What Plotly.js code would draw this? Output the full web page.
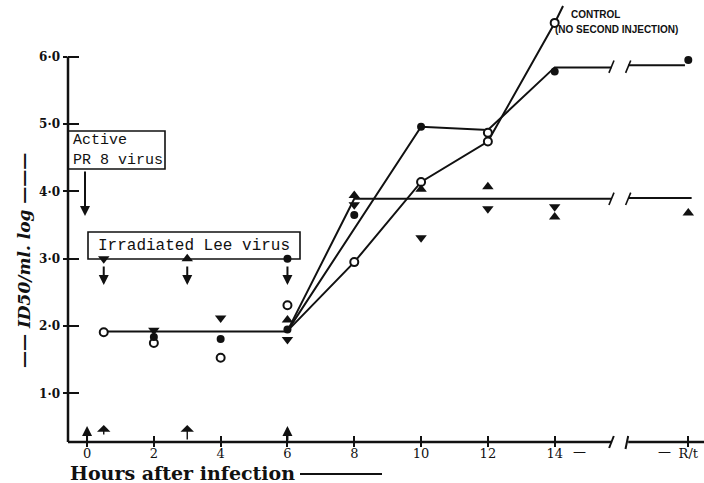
<!DOCTYPE html>
<html><head><meta charset="utf-8">
<script src="https://cdn.plot.ly/plotly-3.0.1.min.js"></script>
<style>html,body{margin:0;padding:0;background:#fff}#chart{width:704px;height:483px}</style>
</head><body><div id="chart"></div>
<script>
// ---- data (hours after infection, log ID50/ml) ----
const baseX = [0.5, 6];
const baseY = [1.92, 1.92];
const lineLee6X = [6, 10, 12, 14, 15.7, null, 16.2, 17.9];
const lineLee6Y = [1.93, 4.96, 4.91, 5.84, 5.84, null, 5.87, 5.87];
const lineTriX = [6, 8, 15.7, null, 16.2, 18.1];
const lineTriY = [1.93, 3.89, 3.89, null, 3.9, 3.9];
const lineCtrlX = [6, 8, 10, 12, 14, 14.25];
const lineCtrlY = [1.93, 2.95, 4.14, 4.74, 6.5, 6.75];

const openCircX = [0.5, 2, 4, 6, 8, 10, 12, 12, 14];
const openCircY = [1.91, 1.75, 1.53, 2.31, 2.95, 4.14, 4.87, 4.74, 6.5];
const fillCircX = [2, 4, 6, 8, 10, 14, 18];
const fillCircY = [1.84, 1.81, 1.95, 3.65, 4.96, 5.78, 5.95];
const triUpX = [6, 8, 10, 12, 14, 18];
const triUpY = [2.09, 3.94, 4.03, 4.07, 3.62, 3.68];
const triDnX = [2, 4, 6, 8, 10, 12, 14];
const triDnY = [1.94, 2.12, 1.8, 3.8, 3.31, 3.74, 3.77];

const leeX = [0.5, 3, 6];
const leeY = [3.0, 3.0, 3.0];
const leeSym = ['triangle-down', 'triangle-up', 'circle'];

const injX = [0, 0.5, 3, 6];
const injBold = [true, false, false, true];

const xTickVals = [0, 2, 4, 6, 8, 10, 12, 14, 18];
const xTickText = ['0', '2', '4', '6', '8', '10', '12', '14', 'R/t'];
const yTickVals = [1, 2, 3, 4, 5, 6];
const yTickText = ['1·0', '2·0', '3·0', '4·0', '5·0', '6·0'];

// ---- layout helpers ----
const XR = [-0.57, 18.47], YR = [0.28, 6.84];
const L = 68, T = 0, W = 636, H = 442;
const px = v => (v - XR[0]) / (XR[1] - XR[0]);          // data x -> paper
const pyPix = p => (H - p) / H;                         // pixel y -> paper
const pxPix = p => (p - L) / W;                         // pixel x -> paper

const ink = '#111';
function lineTrace(x, y) {
  return {x, y, mode: 'lines', line: {color: ink, width: 2}, hoverinfo: 'skip', cliponaxis: false, connectgaps: false};
}
function mk(x, y, symbol, size, open) {
  return {x, y, mode: 'markers', cliponaxis: false,
    marker: {symbol, size, color: open ? '#fff' : ink, line: {color: ink, width: open ? 2 : 0}}};
}

const traces = [
  lineTrace(baseX, baseY),
  lineTrace(lineLee6X, lineLee6Y),
  lineTrace(lineTriX, lineTriY),
  lineTrace(lineCtrlX, lineCtrlY),
  mk(openCircX, openCircY, 'circle', 8, true),
  mk(fillCircX, fillCircY, 'circle', 8),
  mk(triUpX, triUpY, 'triangle-up', 10),
  mk(triDnX, triDnY, 'triangle-down', 10),
];
leeX.forEach((xv, i) => traces.push(mk([xv], [leeY[i]], leeSym[i], leeSym[i] === 'circle' ? 8 : 10)));
traces.forEach(t => { t.showlegend = false; t.xaxis = 'x'; t.yaxis = 'y'; });

const shapes = [];
const seg = (x0, y0, x1, y1, w) => shapes.push({type: 'line', xref: 'paper', yref: 'paper', x0, y0, x1, y1, layer: 'below', line: {color: ink, width: w || 2}});
// y axis line
seg(0, 0, 0, (6.0 - YR[0]) / (YR[1] - YR[0]), 2.5);
// x axis line with break
seg(0, 0, px(15.7), 0, 2.5);
seg(px(16.2), 0, 1, 0, 2.5);
seg(px(15.63), pyPix(448), px(15.77), pyPix(436), 2);
seg(px(16.12), pyPix(449), px(16.2), pyPix(436), 2);
// break marks on plateau lines
[5.85, 3.89].forEach(yv => {
  const yp = (yv - YR[0]) / (YR[1] - YR[0]);
  [15.7, 16.2].forEach(xv => seg(px(xv) - 0.004, yp - 0.014, px(xv) + 0.004, yp + 0.014, 1.6));
});
// boxes
shapes.push({type: 'rect', xref: 'paper', yref: 'paper', layer: 'below', x0: pxPix(68), x1: pxPix(165), y0: pyPix(169), y1: pyPix(131), line: {color: ink, width: 1.6}});
shapes.push({type: 'rect', xref: 'paper', yref: 'paper', layer: 'below', x0: pxPix(88), x1: pxPix(300), y0: pyPix(259), y1: pyPix(232), line: {color: ink, width: 1.6}});
// dash after x title
seg(pxPix(300), pyPix(474), pxPix(382), pyPix(474), 2);

const annotations = [];
const tf = (size, extra) => Object.assign({family: 'Liberation Mono, monospace', size, color: ink}, extra || {});
annotations.push({xref: 'paper', yref: 'paper', x: pxPix(71), y: pyPix(150), xanchor: 'left', yanchor: 'middle', align: 'left', showarrow: false,
  text: 'Active<br>PR 8 virus', font: tf(15)});
annotations.push({xref: 'paper', yref: 'paper', x: pxPix(194), y: pyPix(246), xanchor: 'center', yanchor: 'middle', showarrow: false,
  text: 'Irradiated Lee virus', font: tf(16)});
// PR8 arrow
annotations.push({xref: 'paper', yref: 'paper', x: pxPix(85), y: pyPix(216), ax: 0, ay: -46, text: '', showarrow: true,
  arrowhead: 2, arrowsize: 1, arrowwidth: 2, arrowcolor: ink});
// Lee arrows
leeX.forEach(xv => annotations.push({xref: 'x', yref: 'paper', x: xv, y: pyPix(285), ax: 0, ay: -20, text: '', showarrow: true,
  arrowhead: 2, arrowsize: 1, arrowwidth: 2, arrowcolor: ink}));
// injection arrows on x axis
injX.forEach((xv, i) => annotations.push({xref: 'x', yref: 'paper', x: xv, y: pyPix(injBold[i] ? 426 : 425), ax: 0, ay: injBold[i] ? 16 : (xv === 0.5 ? 11 : 16), text: '', showarrow: true,
  arrowhead: injBold[i] ? 2 : 1, arrowsize: injBold[i] ? 1 : 1.6, arrowwidth: injBold[i] ? 2 : 1.4, arrowcolor: ink}));
// dashes by tick labels
annotations.push({xref: 'x', yref: 'paper', x: 14.73, y: pyPix(452), xanchor: 'center', yanchor: 'middle', showarrow: false, text: '—', font: {family: 'DejaVu Serif', size: 13, color: ink}});
annotations.push({xref: 'x', yref: 'paper', x: 17.28, y: pyPix(452), xanchor: 'center', yanchor: 'middle', showarrow: false, text: '—', font: {family: 'DejaVu Serif', size: 13, color: ink}});
// control label
annotations.push({xref: 'paper', yref: 'paper', x: pxPix(569), y: pyPix(15), xanchor: 'left', yanchor: 'middle', showarrow: false,
  text: 'CONTROL', font: {family: 'Liberation Sans', size: 10, weight: 'bold', color: ink}});
annotations.push({xref: 'paper', yref: 'paper', x: pxPix(553), y: pyPix(30), xanchor: 'left', yanchor: 'middle', showarrow: false,
  text: '(NO SECOND INJECTION)', font: {family: 'Liberation Sans', size: 10, weight: 'bold', color: ink}});
// axis titles
annotations.push({xref: 'paper', yref: 'paper', x: pxPix(24), y: pyPix(261), xanchor: 'center', yanchor: 'middle', textangle: -90, showarrow: false,
  text: '—— <i>ID50/ml. log</i> ———', font: {family: 'DejaVu Serif', size: 17, weight: 'bold', color: ink}});
annotations.push({xref: 'paper', yref: 'paper', x: 0, y: pyPix(473), xanchor: 'left', yanchor: 'middle', showarrow: false,
  text: 'Hours after infection', font: {family: 'DejaVu Serif', size: 19, weight: 'bold', color: ink}});

const layout = {
  width: 704, height: 483,
  margin: {l: L, r: 0, t: T, b: 41},
  paper_bgcolor: '#fff', plot_bgcolor: '#fff',
  showlegend: false,
  xaxis: {range: XR, tickvals: xTickVals, ticktext: xTickText, ticks: 'inside', ticklen: 6, tickwidth: 2, tickcolor: ink,
    showgrid: false, zeroline: false, showline: false, fixedrange: true, ticklabelstandoff: 2,
    tickfont: {family: 'DejaVu Serif', size: 13, color: ink}},
  xaxis2: {overlaying: 'x', matches: 'x', anchor: 'y', side: 'bottom', tickvals: xTickVals, ticks: 'outside', ticklen: 4, tickwidth: 2, tickcolor: ink,
    showticklabels: false, showgrid: false, zeroline: false, showline: false},
  yaxis: {range: YR, tickvals: yTickVals, ticktext: yTickText, ticks: 'inside', ticklen: 11, tickwidth: 2, tickcolor: ink,
    showgrid: false, zeroline: false, showline: false, fixedrange: true, ticklabelstandoff: 7,
    tickfont: {family: 'DejaVu Serif', size: 12, weight: 'bold', color: ink}},
  yaxis2: {overlaying: 'y', matches: 'y', anchor: 'x', side: 'left', tickvals: yTickVals, ticks: 'outside', ticklen: 4, tickwidth: 2, tickcolor: ink,
    showticklabels: false, showgrid: false, zeroline: false, showline: false},
  shapes, annotations
};
// invisible trace to activate overlay axes
traces.push({x: [0], y: [1], xaxis: 'x2', yaxis: 'y2', mode: 'markers', marker: {opacity: 0}, showlegend: false, hoverinfo: 'skip'});
Plotly.newPlot('chart', traces, layout, {staticPlot: true, displayModeBar: false});
</script></body></html>
